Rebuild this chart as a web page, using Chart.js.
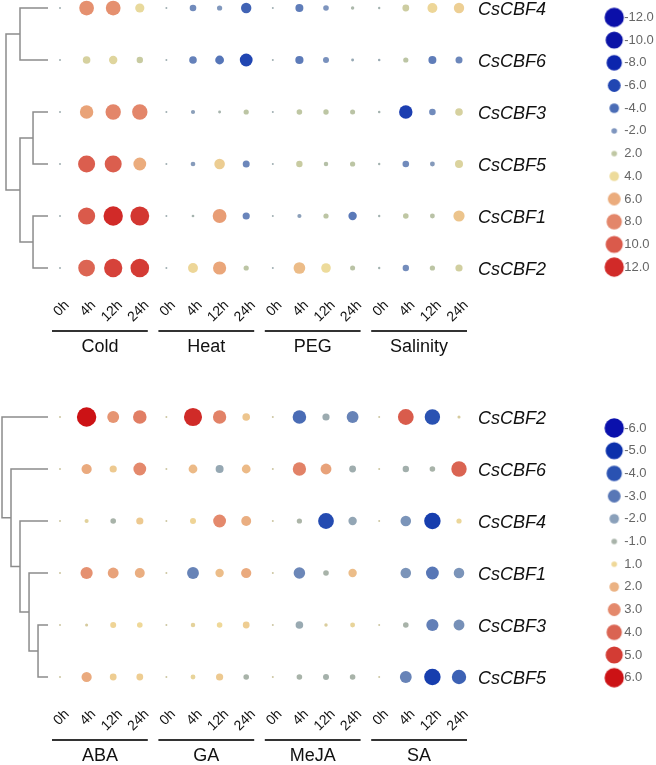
<!DOCTYPE html>
<html lang="en">
<head>
<meta charset="UTF-8" />
<title>CsCBF expression under stress and hormone treatments</title>
<script src="https://cdn.jsdelivr.net/npm/chart.js"></script>
<style>
  html, body { margin: 0; padding: 0; background: #fff; }
  .panel { position: relative; width: 656px; }
  #topWrap { height: 382px; }
  #bottomWrap { height: 383px; }
</style>
</head>
<body>
<div class="panel" id="topWrap"><canvas id="topChart"></canvas></div>
<div class="panel" id="bottomWrap"><canvas id="bottomChart"></canvas></div>
<script>
// ---- data ----
const timePoints = ['0h', '4h', '12h', '24h'];

// upper panel: abiotic stresses
const stressGroups = ['Cold', 'Heat', 'PEG', 'Salinity'];
const stressGenes = ['CsCBF4', 'CsCBF6', 'CsCBF3', 'CsCBF5', 'CsCBF1', 'CsCBF2'];
const stressCBF4 = [0, 7.5, 7.5, 3.8, 0, -2.5, -1.8, -4.5, 0, -3.2, -2.0, 0.8, 0.2, 2.6, 4.2, 4.5];
const stressCBF6 = [0, 3.0, 3.4, 2.4, 0, -3.0, -3.6, -6.0, 0, -3.3, -2.2, -0.5, -0.3, 1.8, -3.2, -2.7];
const stressCBF3 = [0, 6.5, 8.0, 8.0, 0, -1.2, 0.5, 1.8, 0, 2.0, 1.9, 1.7, 0.3, -6.5, -2.5, 3.0];
const stressCBF5 = [0, 9.8, 9.8, 6.0, 0, -1.5, 4.6, -2.7, 0, 2.4, 1.4, 1.8, 0.2, -2.5, -1.6, 3.2];
const stressCBF1 = [0, 10.0, 12.5, 11.5, 0, 0.4, 6.8, -2.8, 0, -1.2, 1.8, -3.4, 0.2, 2.0, 1.6, 5.0];
const stressCBF2 = [0, 9.5, 11.0, 11.3, 0, 4.2, 6.3, 1.8, 0, 5.3, 4.0, 1.7, 0.2, -2.4, 1.8, 2.8];
const stressLegend = [-12, -10, -8, -6, -4, -2, 2, 4, 6, 8, 10, 12];
// merges: [childA, childB, height]; leaves are 0..5 in row order
const stressTree = [[0, 1, 0.667], [2, 3, 0.357], [4, 5, 0.357], [7, 8, 0.667], [6, 9, 1.0]];

// lower panel: hormones
const hormoneGroups = ['ABA', 'GA', 'MeJA', 'SA'];
const hormoneGenes = ['CsCBF2', 'CsCBF6', 'CsCBF4', 'CsCBF1', 'CsCBF3', 'CsCBF5'];
const hormoneCBF2 = [0, 6.0, 2.7, 3.3, 0, 5.4, 3.2, 1.5, 0, -3.3, -1.4, -2.7, 0, 4.2, -4.0, 0.3];
const hormoneCBF6 = [0, 2.2, 1.4, 3.0, 0, 1.8, -1.6, 1.8, 0, 3.2, 2.4, -1.3, 0, -1.2, -1.0, 4.0];
const hormoneCBF4 = [0, 0.6, -1.0, 1.4, 0, 1.1, 3.0, 2.1, 0, -0.9, -4.2, -1.7, 0, -2.3, -4.6, 0.9];
const hormoneCBF1 = [0, 2.8, 2.4, 2.1, 0, -2.7, 1.7, 2.2, 0, -2.6, -1.0, 1.7, null, -2.3, -3.0, -2.3];
const hormoneCBF3 = [0, 0.3, 1.1, 1.0, 0, 0.7, 1.0, 1.3, 0, -1.5, 0.4, 0.8, 0, -1.0, -2.8, -2.4];
const hormoneCBF5 = [0, 2.2, 1.3, 1.3, 0, 0.8, 1.4, -1.0, 0, -1.0, -1.1, -1.0, 0, -2.7, -4.6, -3.6];
const hormoneLegend = [-6, -5, -4, -3, -2, -1, 1, 2, 3, 4, 5, 6];
const hormoneTree = [[4, 5, 0.238], [3, 6, 0.452], [2, 7, 0.667], [1, 8, 0.881], [0, 9, 1.095]];

// ---- styles ----
const stressColors = ['#0b0fa9', '#0a12a6', '#0c25ad', '#2146b2', '#4b6db6', '#7e95be',
                      '#bfc7a3', '#eddb9b', '#ebac7d', '#e3866a', '#da5a4b', '#d12a28'];
const hormoneColors = ['#0a10ac', '#0b30ab', '#2a52b2', '#5877b6', '#8aa0ba', '#a8b3a9',
                       '#efd898', '#ebb283', '#e4896c', '#da6452', '#d33c34', '#cc1215'];
const radiusSteps = [1, 2.8, 4.8, 6.4, 7.7, 8.6, 9.7];
const FONT = '"Liberation Sans", Arial, sans-serif';
const colWidth = 26.6;   // px between columns
const firstCol = 60;     // px of first column
const plotRight = 470;   // px of plot area right edge
const leafEnd = -0.45;   // dendrogram leaf tips, in column units
const treeScale = 1.58;  // column units per dendrogram height unit

function radiusFor(v, unit) {
  const t = Math.min(Math.abs(v) / unit, radiusSteps.length - 1);
  const i = Math.min(Math.floor(t), radiusSteps.length - 2);
  return radiusSteps[i] + (radiusSteps[i + 1] - radiusSteps[i]) * (t - i);
}

function hexRgb(h) {
  return [1, 3, 5].map(i => parseInt(h.substr(i, 2), 16));
}

function colorFor(v, vals, cols) {
  if (v <= vals[0]) return cols[0];
  if (v >= vals[vals.length - 1]) return cols[cols.length - 1];
  for (let i = 0; i < vals.length - 1; i++) {
    if (v >= vals[i] && v <= vals[i + 1]) {
      const t = (v - vals[i]) / (vals[i + 1] - vals[i]);
      const a = hexRgb(cols[i]), b = hexRgb(cols[i + 1]);
      const c = a.map((x, k) => Math.round(x + (b[k] - x) * t));
      return `rgb(${c[0]},${c[1]},${c[2]})`;
    }
  }
  return cols[0];
}

function dot(r, color) {
  const c = document.createElement('canvas');
  const s = Math.ceil(r * 2 + 2);
  c.width = s; c.height = s;
  const g = c.getContext('2d');
  g.fillStyle = color;
  g.beginPath();
  g.arc(s / 2, s / 2, r, 0, Math.PI * 2);
  g.fill();
  return c;
}

function treeLines(merges, nLeaves) {
  const nodes = [];
  for (let i = 0; i < nLeaves; i++) nodes.push({ h: 0, y: i });
  const toX = h => leafEnd - h * treeScale;
  return merges.map(([a, b, h]) => {
    const A = nodes[a], B = nodes[b];
    nodes.push({ h, y: (A.y + B.y) / 2 });
    return [
      { x: toX(A.h), y: A.y }, { x: toX(h), y: A.y },
      { x: toX(h), y: B.y }, { x: toX(B.h), y: B.y }
    ];
  });
}

const groupBars = {
  id: 'groupBars',
  afterDraw(chart, args, opts) {
    const { ctx, chartArea, scales } = chart;
    const x = scales.x;
    ctx.save();
    opts.groups.forEach((name, g) => {
      const x1 = x.getPixelForValue(g * 4) - 8;
      const x2 = x.getPixelForValue(g * 4 + 3) + 8;
      const y = chartArea.bottom + 46;
      ctx.strokeStyle = '#333';
      ctx.lineWidth = 2;
      ctx.beginPath();
      ctx.moveTo(x1, y);
      ctx.lineTo(x2, y);
      ctx.stroke();
      ctx.fillStyle = '#111';
      ctx.font = '18px ' + FONT;
      ctx.textAlign = 'center';
      ctx.textBaseline = 'middle';
      ctx.fillText(name, (x1 + x2) / 2, chartArea.bottom + 62);
    });
    ctx.restore();
  }
};

function buildPanel(canvasId, p) {
  const nCols = p.rows[0].length;
  const bubbles = [];
  p.rows.forEach((row, r) => row.forEach((v, c) => {
    if (v !== null) bubbles.push({ x: c, y: r, r: radiusFor(v, p.unit), v });
  }));

  const datasets = [{
    type: 'bubble',
    data: bubbles,
    backgroundColor: ctx => colorFor(ctx.raw.v, p.legend, p.colors),
    borderWidth: 0,
    hoverRadius: 0,
    clip: false,
    order: 1
  }];
  treeLines(p.tree, p.genes.length).forEach(seg => datasets.push({
    type: 'line',
    data: seg,
    borderColor: '#8c8c8c',
    borderWidth: 1.5,
    pointRadius: 0,
    fill: false,
    tension: 0,
    clip: false,
    order: 2
  }));

  const xMin = -firstCol / colWidth;
  const xMax = xMin + plotRight / colWidth;
  const rowPx = 52;

  return new Chart(document.getElementById(canvasId), {
    type: 'bubble',
    data: { datasets },
    plugins: [groupBars],
    options: {
      responsive: true,
      maintainAspectRatio: false,
      animation: false,
      events: [],
      layout: { padding: 0, autoPadding: false },
      scales: {
        x: {
          type: 'linear',
          position: 'bottom',
          min: xMin,
          max: xMax,
          grid: { display: false },
          border: { display: false },
          afterBuildTicks: s => { s.ticks = Array.from({ length: nCols }, (_, i) => ({ value: i })); },
          afterFit: s => { s.height = p.axisHeight; s.paddingLeft = 0; s.paddingRight = 0; },
          ticks: {
            autoSkip: false,
            minRotation: 45,
            maxRotation: 45,
            padding: 4,
            labelOffset: 7,
            color: '#111',
            font: { family: FONT, size: 14 },
            callback: v => timePoints[v % timePoints.length]
          }
        },
        y: {
          type: 'linear',
          position: 'right',
          reverse: true,
          min: -p.topGap / rowPx,
          max: (p.genes.length - 1) + 17 / rowPx,
          grid: { display: false, drawTicks: false },
          border: { display: false },
          afterBuildTicks: s => { s.ticks = p.genes.map((_, i) => ({ value: i })); },
          afterFit: s => { s.width = 131; s.paddingTop = 0; s.paddingBottom = 0; },
          ticks: {
            autoSkip: false,
            padding: 8,
            labelOffset: 2,
            color: '#111',
            font: { family: FONT, size: 18, style: 'italic' },
            callback: v => p.genes[v]
          }
        }
      },
      plugins: {
        tooltip: { enabled: false },
        groupBars: { groups: p.groups },
        legend: {
          position: 'right',
          align: 'start',
          maxWidth: 55,
          title: { display: true, text: '', font: { size: 1 }, padding: { top: p.legendTitlePad, bottom: 0 } },
          labels: {
            usePointStyle: true,
            boxWidth: 7,
            padding: 9.7,
            color: '#222',
            font: { family: FONT, size: 13 },
            generateLabels: () => p.legend.map(v => {
              const col = colorFor(v, p.legend, p.colors);
              return {
                text: v.toFixed(1),
                pointStyle: dot(radiusFor(v, p.unit), col),
                fillStyle: col,
                strokeStyle: col,
                lineWidth: 0,
                hidden: false
              };
            })
          }
        }
      }
    }
  });
}

buildPanel('topChart', {
  rows: [stressCBF4, stressCBF6, stressCBF3, stressCBF5, stressCBF1, stressCBF2],
  genes: stressGenes,
  groups: stressGroups,
  legend: stressLegend,
  colors: stressColors,
  tree: stressTree,
  unit: 2,
  topGap: 8,
  axisHeight: 97,
  legendTitlePad: 0
});

buildPanel('bottomChart', {
  rows: [hormoneCBF2, hormoneCBF6, hormoneCBF4, hormoneCBF1, hormoneCBF3, hormoneCBF5],
  genes: hormoneGenes,
  groups: hormoneGroups,
  legend: hormoneLegend,
  colors: hormoneColors,
  tree: hormoneTree,
  unit: 1,
  topGap: 35,
  axisHeight: 71,
  legendTitlePad: 28.6
});
</script>
</body>
</html>
